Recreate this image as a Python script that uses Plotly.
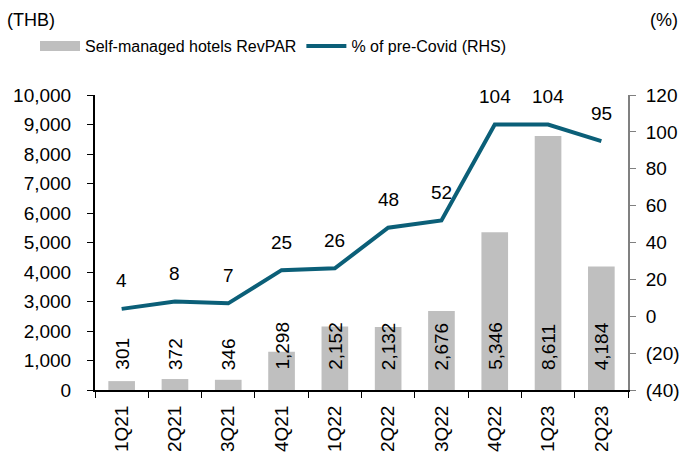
import plotly.graph_objects as go

quarters = ['1Q21', '2Q21', '3Q21', '4Q21', '1Q22', '2Q22', '3Q22', '4Q22', '1Q23', '2Q23']
revpar = [301, 372, 346, 1298, 2152, 2132, 2676, 5346, 8611, 4184]
pct_pre_covid = [4, 8, 7, 25, 26, 48, 52, 104, 104, 95]

rhs_ticks = [-40, -20, 0, 20, 40, 60, 80, 100, 120]
rhs_labels = ['(40)', '(20)', '0', '20', '40', '60', '80', '100', '120']

FONT = 'Liberation Sans, Arial, sans-serif'
BAR_COLOR = '#BFBFBF'
LINE_COLOR = '#0B5F78'
FS = 19

fig = go.Figure()
fig.add_trace(go.Bar(
    x=quarters, y=revpar, name='Self-managed hotels RevPAR',
    marker=dict(color=BAR_COLOR, line=dict(width=0)),
    showlegend=False,
))
# ключ легенды в виде широкой полосы, как в Excel
fig.add_trace(go.Scatter(
    x=[None], y=[None], mode='lines', name='Self-managed hotels RevPAR',
    line=dict(color=BAR_COLOR, width=10),
))
fig.add_trace(go.Scatter(
    x=quarters, y=pct_pre_covid, name='% of pre-Covid (RHS)',
    mode='lines', yaxis='y2',
    line=dict(color=LINE_COLOR, width=4),
))

# подписи столбцов: вертикально, от основания
for q, v in zip(quarters, revpar):
    fig.add_annotation(
        x=q, y=0, xref='x', yref='y', text=f'{v:,}', showarrow=False,
        textangle=-90, yanchor='bottom', yshift=18,
        font=dict(size=FS, color='black', family=FONT),
    )

# подписи линии над точками
for q, v in zip(quarters, pct_pre_covid):
    fig.add_annotation(
        x=q, y=v, xref='x', yref='y2', text=str(v), showarrow=False,
        yshift=28, font=dict(size=FS, color='black', family=FONT),
    )

fig.add_annotation(x=-90 / 533, y=370 / 295, xref='paper', yref='paper',
                   text='(THB)', showarrow=False, xanchor='left', yanchor='middle',
                   font=dict(size=18, family=FONT, color='black'))
fig.add_annotation(x=585 / 533, y=370 / 295, xref='paper', yref='paper',
                   text='(%)', showarrow=False, xanchor='right', yanchor='middle',
                   font=dict(size=18, family=FONT, color='black'))

fig.update_layout(
    width=686, height=457,
    margin=dict(l=95, r=58, t=95, b=67, autoexpand=False),
    paper_bgcolor='white', plot_bgcolor='white',
    font=dict(family=FONT, size=FS, color='black'),
    bargap=0.5,
    showlegend=True,
    legend=dict(orientation='h', xref='container', yref='container',
                x=35 / 686, y=1 - 46 / 457, xanchor='left', yanchor='middle',
                itemwidth=40, font=dict(size=16), bgcolor='rgba(0,0,0,0)',
                tracegroupgap=0),
    xaxis=dict(
        type='category', tickangle=-90, tickson='boundaries',
        ticks='outside', ticklen=6, tickcolor='black',
        showline=True, linecolor='black', linewidth=2,
        showgrid=False, tickfont=dict(size=FS), automargin=False,
        ticklabelstandoff=6,
    ),
    yaxis=dict(
        range=[0, 10000], dtick=1000, tickformat=',',
        ticks='outside', ticklen=6, tickcolor='black',
        showline=True, linecolor='black', linewidth=2,
        showgrid=False, zeroline=False, tickfont=dict(size=FS),
        automargin=False, ticklabelstandoff=12,
    ),
    yaxis2=dict(
        overlaying='y', side='right', range=[-40, 120],
        tickvals=rhs_ticks, ticktext=rhs_labels,
        ticks='outside', ticklen=6, tickcolor='#808080',
        showline=True, linecolor='#808080', linewidth=2,
        showgrid=False, zeroline=False, tickfont=dict(size=FS),
        automargin=False, ticklabelstandoff=6,
    ),
)

# убираем стандартный отступ body, чтобы график стоял в углу окна
fig.write_html('out.html', config={'displayModeBar': False},
               post_script="document.body.style.margin='0';")
